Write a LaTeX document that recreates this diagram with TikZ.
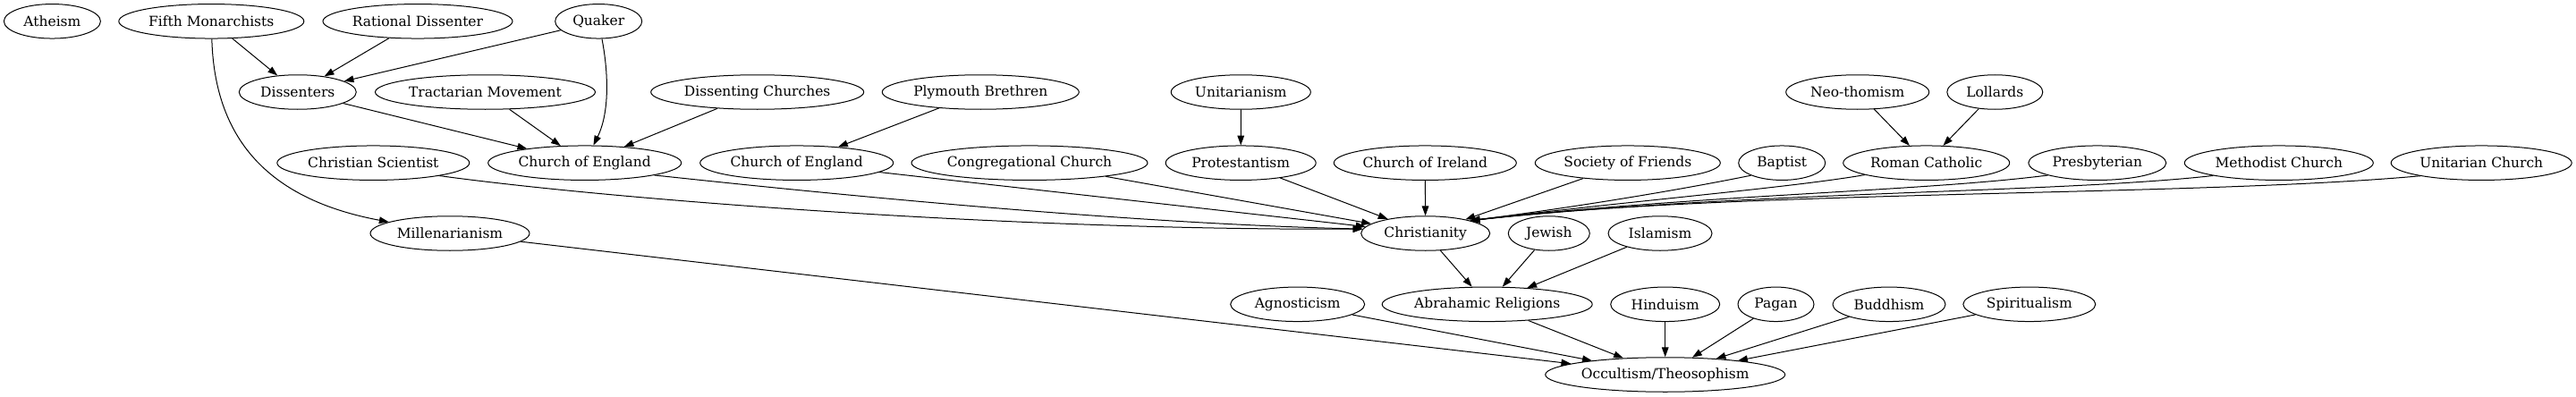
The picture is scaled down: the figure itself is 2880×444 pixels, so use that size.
\documentclass[tikz,border=0pt]{standalone}
\usepackage{fontspec}
\setmainfont{DejaVu Serif}
\usetikzlibrary{shapes.geometric,arrows.meta}
\begin{document}
\begin{tikzpicture}[x=1pt,y=-1pt,
  el/.style={ellipse,draw,line width=1pt,minimum height=38.5pt,inner sep=0pt,
    font=\fontsize{15.5}{17}\selectfont},
  arr/.style={-{Triangle[length=10.8pt,width=7.6pt]},line width=1pt}]
\useasboundingbox (0,0) rectangle (2880,444);
% row 0
\node[el,minimum width=108pt] (at) at (58.4,23.8) {Atheism};
\node[el,minimum width=207pt] (fm) at (236.3,23.8) {Fifth Monarchists};
\node[el,minimum width=212pt] (rd) at (467,23.8) {Rational Dissenter};
\node[el,minimum width=97pt] (qu) at (669.2,23.8) {Quaker};
% row 1
\node[el,minimum width=131pt] (dis) at (332.8,103) {Dissenters};
\node[el,minimum width=246pt] (tm) at (542.5,103) {Tractarian Movement};
\node[el,minimum width=238pt] (dc) at (846.7,103) {Dissenting Churches};
\node[el,minimum width=220pt] (pb) at (1096.3,103) {Plymouth Brethren};
\node[el,minimum width=156pt] (un) at (1387.3,103) {Unitarianism};
\node[el,minimum width=160pt] (nt) at (2076.7,103) {Neo-thomism};
\node[el,minimum width=107pt] (lo) at (2230.3,103) {Lollards};
% row 2
\node[el,minimum width=215pt] (cs) at (417.3,182.2) {Christian Scientist};
\node[el,minimum width=216pt] (ce1) at (653.7,182.2) {Church of England};
\node[el,minimum width=216pt] (ce2) at (890.7,182.2) {Church of England};
\node[el,minimum width=264pt] (cc) at (1151,182.2) {Congregational Church};
\node[el,minimum width=168pt] (pr) at (1387.2,182.2) {Protestantism};
\node[el,minimum width=204pt] (ci) at (1593.3,182.2) {Church of Ireland};
\node[el,minimum width=207pt] (sf) at (1819.8,182.2) {Society of Friends};
\node[el,minimum width=97pt] (ba) at (1992.2,182.2) {Baptist};
\node[el,minimum width=186pt] (rc) at (2153.7,182.2) {Roman Catholic};
\node[el,minimum width=154pt] (pe) at (2344.8,182.2) {Presbyterian};
\node[el,minimum width=211pt] (mc) at (2547.8,182.2) {Methodist Church};
\node[el,minimum width=202pt] (uc) at (2774.2,182.2) {Unitarian Church};
% row 3
\node[el,minimum width=178pt] (mi) at (503,261) {Millenarianism};
\node[el,minimum width=144pt] (ch) at (1593.7,261) {Christianity};
\node[el,minimum width=91pt] (je) at (1731.8,261) {Jewish};
\node[el,minimum width=116pt] (is) at (1856,261) {Islamism};
% row 4
\node[el,minimum width=150pt] (ag) at (1450.7,340.3) {Agnosticism};
\node[el,minimum width=235pt] (ar) at (1662.7,340.3) {Abrahamic Religions};
\node[el,minimum width=122pt] (hi) at (1861.7,340.3) {Hinduism};
\node[el,minimum width=85pt] (pa) at (1985.5,340.3) {Pagan};
\node[el,minimum width=126pt] (bu) at (2112,340.3) {Buddhism};
\node[el,minimum width=148pt] (sp) at (2268.8,340.3) {Spiritualism};
% row 5
\node[el,minimum width=268pt] (oc) at (1861.7,419) {Occultism/Theosophism};
% edges, top
\draw[arr] (fm) -- (dis);
\draw[arr] (rd) -- (dis);
\draw[arr] (qu) -- (dis);
\draw[arr] (qu) .. controls (680,80) and (682,125) .. (ce1);
\draw[arr] (fm) .. controls (240,160) and (305,224) .. (mi);
\draw[arr] (dis) -- (ce1);
\draw[arr] (tm) -- (ce1);
\draw[arr] (dc) -- (ce1);
\draw[arr] (pb) -- (ce2);
\draw[arr] (un) -- (pr);
\draw[arr] (nt) -- (rc);
\draw[arr] (lo) -- (rc);
% edges into Christianity
\draw[arr] (cs.-11) .. controls (700,225) and (1150,258) .. (ch.176);
\draw[arr] (ce1.-10) .. controls (900,214) and (1250,250) .. (ch.176);
\draw[arr] (ce2) -- (ch);
\draw[arr] (cc) -- (ch);
\draw[arr] (pr) -- (ch);
\draw[arr] (ci) -- (ch);
\draw[arr] (sf) -- (ch);
\draw[arr] (ba.202) .. controls (1880,212) and (1760,232) .. (ch.16);
\draw[arr] (rc.191) .. controls (2000,210) and (1850,222) .. (ch.16);
\draw[arr] (pe.194) .. controls (2150,214) and (1900,218) .. (ch.16);
\draw[arr] (mc.191) .. controls (2300,216) and (1950,214) .. (ch.16);
\draw[arr] (uc.192) .. controls (2450,220) and (1950,212) .. (ch.16);
% lower edges
\draw[arr] (ch) -- (ar);
\draw[arr] (je) -- (ar);
\draw[arr] (is) -- (ar);
\draw[arr] (mi) -- (oc);
\draw[arr] (ag) -- (oc);
\draw[arr] (ar) -- (oc);
\draw[arr] (hi) -- (oc);
\draw[arr] (pa) -- (oc);
\draw[arr] (bu) -- (oc);
\draw[arr] (sp) -- (oc);
\end{tikzpicture}
\end{document}
